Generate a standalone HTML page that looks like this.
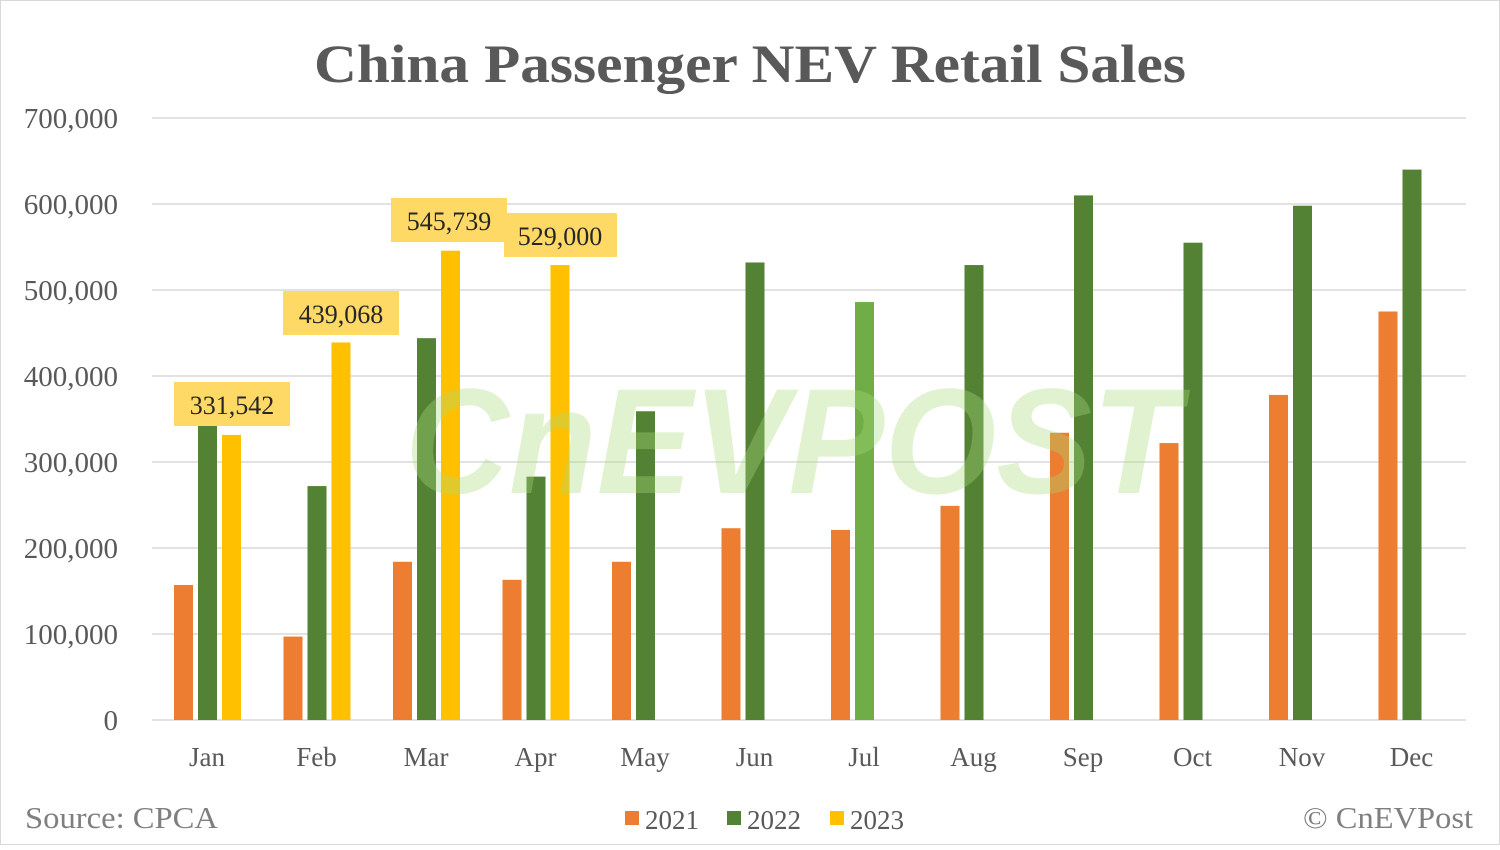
<!DOCTYPE html>
<html><head><meta charset="utf-8"><style>
html,body{margin:0;padding:0;background:#fff}
</style></head><body>
<svg width="1500" height="845" viewBox="0 0 1500 845" xmlns="http://www.w3.org/2000/svg" font-family="Liberation Serif, serif">
<rect x="0.5" y="0.5" width="1499" height="844" fill="#fff" stroke="#d9d9d9"/>
<text x="750" y="82" text-anchor="middle" font-size="54" font-weight="bold" fill="#595959" textLength="872" lengthAdjust="spacingAndGlyphs">China Passenger NEV Retail Sales</text>
<g stroke="#d9d9d9" stroke-width="1.5">
<line x1="152" x2="1466" y1="118" y2="118"/><line x1="152" x2="1466" y1="204" y2="204"/>
<line x1="152" x2="1466" y1="290" y2="290"/><line x1="152" x2="1466" y1="376" y2="376"/>
<line x1="152" x2="1466" y1="462" y2="462"/><line x1="152" x2="1466" y1="548" y2="548"/>
<line x1="152" x2="1466" y1="634" y2="634"/><line x1="152" x2="1466" y1="720" y2="720"/>
</g>
<g font-size="29" fill="#595959" text-anchor="end">
<text x="118" y="128">700,000</text><text x="118" y="214">600,000</text><text x="118" y="300">500,000</text>
<text x="118" y="386">400,000</text><text x="118" y="472">300,000</text><text x="118" y="558">200,000</text>
<text x="118" y="644">100,000</text><text x="118" y="730">0</text>
</g>
<g id="bars"></g>
<text x="405" y="493" font-family="Liberation Sans, sans-serif" font-size="150" font-weight="bold" font-style="italic" fill="#a8dc78" opacity="0.35" textLength="775" lengthAdjust="spacingAndGlyphs">CnEVPOST</text>
<g font-size="26" fill="#262626" text-anchor="middle">
<rect x="174" y="382" width="116" height="44" fill="#ffd966"/><text x="232" y="414">331,542</text>
<rect x="283" y="291" width="116" height="44" fill="#ffd966"/><text x="341" y="323">439,068</text>
<rect x="391" y="198" width="116" height="44" fill="#ffd966"/><text x="449" y="230">545,739</text>
<rect x="504" y="213" width="113" height="44" fill="#ffd966"/><text x="560" y="245">529,000</text>
</g>
<g font-size="27" fill="#595959" text-anchor="middle" id="months"></g>
<text x="25" y="828" font-size="31" fill="#7f7f7f" textLength="193" lengthAdjust="spacingAndGlyphs">Source: CPCA</text>
<text x="1303" y="828" font-size="31" fill="#7f7f7f" textLength="170" lengthAdjust="spacingAndGlyphs">© CnEVPost</text>
<g font-size="27" fill="#595959">
<rect x="625" y="811" width="14" height="14" fill="#ed7d31"/><text x="645" y="829">2021</text>
<rect x="727" y="811" width="14" height="14" fill="#548235"/><text x="747" y="829">2022</text>
<rect x="830" y="811" width="14" height="14" fill="#ffc000"/><text x="850" y="829">2023</text>
</g>
<script>
var a=[157,97,184,163,184,223,221,249,334,322,378,475];
var b=[348,272,444,283,359,532,486,529,610,555,598,640];
var c=[331.5,439,545.7,529];
var m=["Jan","Feb","Mar","Apr","May","Jun","Jul","Aug","Sep","Oct","Nov","Dec"];
var ns="http://www.w3.org/2000/svg",g=document.getElementById("bars"),mg=document.getElementById("months");
function r(x,v,f){var e=document.createElementNS(ns,"rect");var h=v*0.86;e.setAttribute("x",x);e.setAttribute("y",720-h);e.setAttribute("width",19);e.setAttribute("height",h);e.setAttribute("fill",f);g.appendChild(e);}
for(var i=0;i<12;i++){var cx=207+i*109.5;
r(cx-33,a[i],"#ed7d31");r(cx-9,b[i],i==6?"#70ad47":"#548235");if(i<4)r(cx+15,c[i],"#ffc000");
var t=document.createElementNS(ns,"text");t.setAttribute("x",cx);t.setAttribute("y",766);t.textContent=m[i];mg.appendChild(t);}
</script>
</svg>
</body></html>
